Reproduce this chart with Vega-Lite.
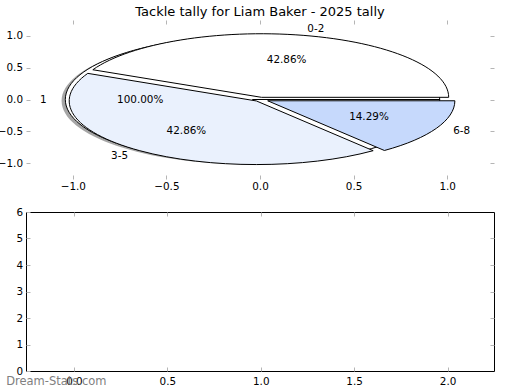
{
  "$schema": "https://vega.github.io/schema/vega-lite/v6.json",
  "padding": {"left": -3, "top": 5, "right": 0, "bottom": 0},
  "config": {
    "font": "DejaVu Sans",
    "view": {"stroke": null},
    "axis": {"grid": false, "domain": false, "tickColor": "#b5b5b5", "tickSize": -4, "tickWidth": 1, "labelPadding": 7.5, "labelFontSize": 10.4, "labelColor": "#000000", "labelFont": "DejaVu Sans"},
    "title": {"fontSize": 13, "fontWeight": "normal", "font": "DejaVu Sans", "color": "#000000", "offset": 1}
  },
  "datasets": {
    "pie": [
      {"label": "1", "pct": 1.0, "lx": -1.14, "ly": 0, "px": -0.64, "py": 0},
      {"label": "0-2", "pct": 0.4286, "lx": 0.253, "ly": 1.107, "px": 0.142, "py": 0.619},
      {"label": "3-5", "pct": 0.4286, "lx": -0.705, "ly": -0.882, "px": -0.393, "py": -0.492},
      {"label": "6-8", "pct": 0.1429, "lx": 1.032, "ly": -0.497, "px": 0.582, "py": -0.28}
    ],
    "tally": []
  },
  "bounds": "flush",
  "spacing": 33,
  "vconcat": [
    {
      "title": {"text": "Tackle tally for Liam Baker - 2025 tally", "anchor": "middle"},
      "width": 468,
      "height": 159,
      "data": {"name": "pie"},
      "resolve": {"axis": {"x": "independent", "y": "independent"}},
      "layer": [
        {
          "transform": [{"filter": "datum.label == '1'"}],
          "mark": {"type": "point", "shape": "M0.94 0.0068 A1 0.3397 0 1 0 -1.06 0.0068 A1 0.3397 0 1 0 0.94 0.0068 Z", "size": 140175, "filled": true, "fill": "#4d4d4d", "opacity": 0.5, "strokeWidth": 0},
          "encoding": {
            "x": {"datum": 0, "type": "quantitative", "scale": {"domain": [-1.25, 1.25], "nice": false, "zero": false}, "axis": {"orient": "bottom", "values": [-1, -0.5, 0, 0.5, 1], "format": ".1f", "title": null, "labelPadding": 6.5}},
            "y": {"datum": 0, "type": "quantitative", "scale": {"domain": [-1.25, 1.25], "nice": false, "zero": false}, "axis": {"orient": "left", "values": [-1, -0.5, 0, 0.5, 1], "format": ".1f", "title": null}}
          }
        },
        {
          "mark": {"type": "point", "size": 140175, "filled": true, "stroke": "#000000", "strokeWidth": 1, "opacity": 1},
          "encoding": {
            "x": {"datum": 0, "type": "quantitative", "scale": {"domain": [-1.25, 1.25], "nice": false, "zero": false}, "axis": {"orient": "top", "values": [-1, -0.5, 0, 0.5, 1], "labels": false, "title": null}},
            "y": {"datum": 0, "type": "quantitative", "scale": {"domain": [-1.25, 1.25], "nice": false, "zero": false}, "axis": {"orient": "right", "values": [-1, -0.5, 0, 0.5, 1], "labels": false, "title": null}},
            "shape": {"field": "label", "type": "nominal", "legend": null, "scale": {"domain": ["1", "0-2", "3-5", "6-8"], "range": [
              "M-0.04 0 L0.96 0 A1 0.3397 0 1 0 -1.04 0 A1 0.3397 0 1 0 0.96 0 Z",
              "M0.008 -0.0116 L1.008 -0.0116 A1 0.3397 0 0 0 -0.893 -0.1589 Z",
              "M-0.019 0.0078 L-0.92 -0.1396 A1 0.3397 0 0 0 0.6045 0.2734 Z",
              "M0.041 0.0068 L0.6645 0.2724 A1 0.3397 0 0 0 1.041 0.0068 Z"
            ]}},
            "fill": {"field": "label", "type": "nominal", "legend": null, "scale": {"domain": ["1", "0-2", "3-5", "6-8"], "range": ["#ffffff", "#ffffff", "#eaf1fd", "#c6d9fc"]}}
          }
        },
        {
          "transform": [{"filter": "datum.lx < 0"}],
          "mark": {"type": "text", "align": "right", "baseline": "middle", "fontSize": 10.4, "color": "#000000"},
          "encoding": {
            "x": {"field": "lx", "type": "quantitative", "scale": {"domain": [-1.25, 1.25], "nice": false, "zero": false}, "axis": null},
            "y": {"field": "ly", "type": "quantitative", "scale": {"domain": [-1.25, 1.25], "nice": false, "zero": false}, "axis": null},
            "text": {"field": "label"}
          }
        },
        {
          "transform": [{"filter": "datum.lx >= 0"}],
          "mark": {"type": "text", "align": "left", "baseline": "middle", "fontSize": 10.4, "color": "#000000"},
          "encoding": {
            "x": {"field": "lx", "type": "quantitative", "scale": {"domain": [-1.25, 1.25], "nice": false, "zero": false}, "axis": null},
            "y": {"field": "ly", "type": "quantitative", "scale": {"domain": [-1.25, 1.25], "nice": false, "zero": false}, "axis": null},
            "text": {"field": "label"}
          }
        },
        {
          "mark": {"type": "text", "align": "center", "baseline": "middle", "fontSize": 10.4, "color": "#000000"},
          "encoding": {
            "x": {"field": "px", "type": "quantitative", "scale": {"domain": [-1.25, 1.25], "nice": false, "zero": false}, "axis": null},
            "y": {"field": "py", "type": "quantitative", "scale": {"domain": [-1.25, 1.25], "nice": false, "zero": false}, "axis": null},
            "text": {"field": "pct", "type": "quantitative", "format": ".2%"}
          }
        }
      ]
    },
    {
      "width": 468,
      "height": 159,
      "view": {"stroke": "#000000", "strokeWidth": 1},
      "resolve": {"axis": {"x": "independent", "y": "independent"}},
      "layer": [
        {
          "data": {"name": "tally"},
          "mark": {"type": "bar"},
          "encoding": {
            "x": {"field": "bucket", "type": "quantitative", "scale": {"domain": [-0.23, 2.222], "nice": false, "zero": false}, "axis": {"orient": "bottom", "values": [0, 0.5, 1, 1.5, 2], "format": ".1f", "title": null, "labelPadding": 9.5}},
            "y": {"field": "count", "type": "quantitative", "scale": {"domain": [0, 6], "nice": false, "zero": false}, "axis": {"orient": "left", "values": [0, 1, 2, 3, 4, 5, 6], "format": "d", "title": null}}
          }
        },
        {
          "data": {"values": [{"site": "Dream-Stats.com"}]},
          "mark": {"type": "text", "align": "left", "baseline": "middle", "fontSize": 11.5, "color": "#808080"},
          "encoding": {
            "x": {"datum": -0.363, "type": "quantitative", "scale": {"domain": [-0.23, 2.222], "nice": false, "zero": false}, "axis": {"orient": "top", "values": [0, 0.5, 1, 1.5, 2], "labels": false, "title": null}},
            "y": {"datum": -0.4, "type": "quantitative", "scale": {"domain": [0, 6], "nice": false, "zero": false}, "axis": {"orient": "right", "values": [1, 2, 3, 4, 5], "labels": false, "title": null}},
            "text": {"field": "site"}
          }
        }
      ]
    }
  ]
}
